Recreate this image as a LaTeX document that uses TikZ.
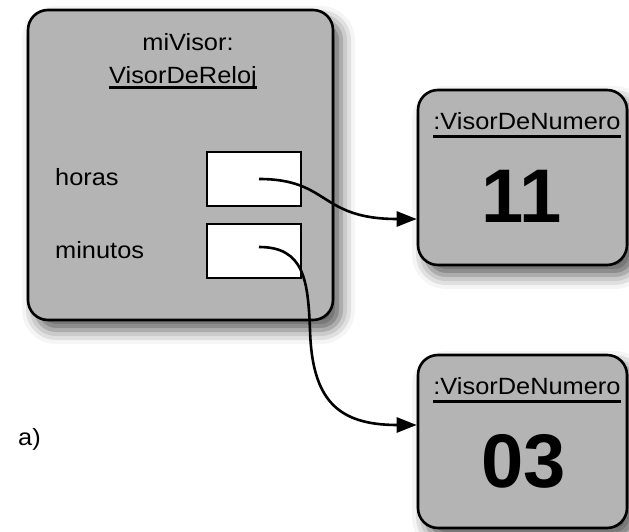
\documentclass[tikz,border=0pt]{standalone}
\usepackage{fontspec}
\setmainfont{Liberation Sans}
\usetikzlibrary{arrows.meta,shadows.blur}
\definecolor{objgray}{RGB}{180,180,180}
\newcommand\widetext[1]{\scalebox{1.08}[1]{#1}}
\begin{document}
\begin{tikzpicture}[x=1pt,y=-1pt,
  objbox/.style={draw=black, line width=2.6pt, rounded corners=20pt, fill=objgray, inner sep=0pt,
    blur shadow={shadow xshift=8pt, shadow yshift=-10pt, shadow blur radius=14pt, shadow opacity=65}},
  slot/.style={draw=black, line width=2.8pt, fill=white, inner sep=0pt,
    minimum width=94pt, minimum height=54pt},
  lbl/.style={font=\fontsize{23.5}{28}\selectfont, inner sep=0pt, anchor=base},
  big/.style={font=\fontsize{76}{80}\selectfont\bfseries, inner sep=0pt, anchor=base},
  link/.style={line width=2.6pt, -{Triangle[length=20pt,width=15pt]}},
  uline/.style={line width=2.4pt}]
\useasboundingbox (0,0) rectangle (629,532);

% object boxes
\node[objbox, minimum width=305pt, minimum height=310pt] (visor) at (180.5,165) {};
\node[objbox, minimum width=209pt, minimum height=175pt] (vh) at (522.5,177.5) {};
\node[objbox, minimum width=209pt, minimum height=173pt] (vm) at (522.5,441.5) {};

% attribute slots
\node[slot] (hbox) at (254,179) {};
\node[slot] (mbox) at (254,251) {};

% texts of the clock display object
\node[lbl] (mv) at (188,51) {\widetext{miVisor:}};
\node[lbl] (vr) at (183,84) {\widetext{VisorDeReloj}};
\draw[uline] ([yshift=-3.5pt]vr.base west) -- ([yshift=-3.5pt]vr.base east);
\node[lbl, anchor=base west] (ho) at (55,185) {\widetext{horas}};
\node[lbl, anchor=base west] (mi) at (55,258) {\widetext{minutos}};
\node[lbl, anchor=base west] (lab) at (18,445) {\widetext{a)}};

% number display objects
\node[lbl] (t1) at (527,130) {\widetext{:VisorDeNumero}};
\draw[uline] ([yshift=-6.5pt]t1.base west) -- ([yshift=-6.5pt]t1.base east);
\node[big] (n1) at (522,222) {11};
\node[lbl] (t2) at (527,394) {\widetext{:VisorDeNumero}};
\draw[uline] ([yshift=-7.5pt]t2.base west) -- ([yshift=-7.5pt]t2.base east);
\node[big] (n2) at (524,487) {03};

% references
\draw[link] ([xshift=5pt]hbox.center) .. controls +(71,0) and +(-98,0) .. ([yshift=-41.5pt]vh.west);
\coordinate (bend) at (310,330);
\draw[link] ([xshift=5pt,yshift=4pt]mbox.center) .. controls +(45,0) and +(-2,-50) .. (bend)
  .. controls +(2,70) and +(-79,0) .. ([yshift=16.5pt]vm.west);
\end{tikzpicture}
\end{document}
